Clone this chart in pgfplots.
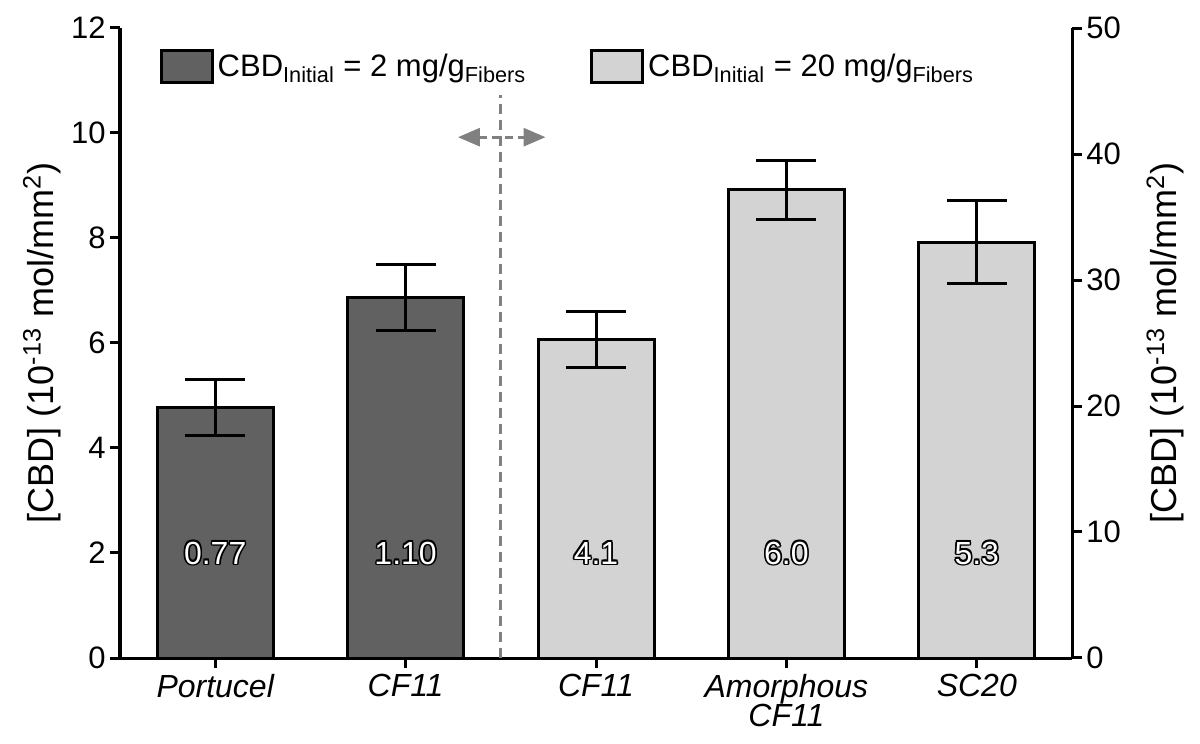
\documentclass[border=0pt]{standalone}
\usepackage{pgfplots}
\pgfplotsset{compat=1.18}
\usepackage{fontspec}
\setmainfont{Liberation Sans}
\usetikzlibrary{arrows.meta}
\definecolor{darkbar}{RGB}{97,97,97}
\definecolor{lightbar}{RGB}{211,211,211}
\definecolor{divider}{RGB}{128,128,128}

\newcommand{\olbox}[3]{\rlap{\kern#1\raisebox{#2}{\color{black}#3}}}
\newcommand{\outl}[1]{\leavevmode
 \olbox{0.8pt}{0pt}{#1}\olbox{-0.8pt}{0pt}{#1}\olbox{0pt}{0.8pt}{#1}\olbox{0pt}{-0.8pt}{#1}%
 \olbox{0.6pt}{0.6pt}{#1}\olbox{-0.6pt}{0.6pt}{#1}\olbox{0.6pt}{-0.6pt}{#1}\olbox{-0.6pt}{-0.6pt}{#1}%
 {\color{white}#1}}

\pgfplotstableread{
x y e
0 4.77 0.53
1 6.86 0.63
}\darkdata
\pgfplotstableread{
x y e
2 6.07 0.53
3 8.92 0.56
4 7.92 0.79
}\lightdata

\begin{document}
\begin{tikzpicture}
\begin{axis}[
  at={(0,0)}, anchor=south west,
  scale only axis, width=476pt, height=315pt,
  xmin=-0.5, xmax=4.5, ymin=0, ymax=12,
  axis x line*=bottom, axis y line*=left,
  axis line style={-, line width=1.5pt},
  ytick={0,2,...,12},
  xtick={0,1,2,3,4},
  xticklabels={Portucel, CF11, CF11, {Amorphous\\CF11}, SC20},
  tick style={line width=1.5pt, black},
  major tick length=5pt,
  tick align=outside,
  /pgf/number format/assume math mode=true,
  yticklabel style={font=\fontsize{15.5}{18}\selectfont, inner sep=2pt},
  xticklabel style={font=\itshape\fontsize{16}{14.5}\selectfont, align=center, inner sep=2pt, yshift=-1pt},
  every axis y label/.style={at={(axis description cs:-0.082,0.5)}, rotate=90, anchor=center, font=\fontsize{18}{20}\selectfont},
  ylabel={[CBD] (10\textsuperscript{-13} mol/mm\textsuperscript{2})},
  ybar, bar width=58pt,
  clip=false,
  legend columns=2,
  legend style={draw=none, fill=none, at={(axis description cs:0.035,0.973)}, anchor=north west,
    font=\fontsize{15.5}{18}\selectfont,
    /tikz/every even column/.append style={column sep=30pt}},
  legend image code/.code={\draw[#1] (0pt,-8pt) rectangle (25.5pt,8pt);},
]
\addplot[ybar, bar shift=0pt, fill=darkbar, draw=black, line width=1.5pt,
  error bars/.cd, y dir=both, y explicit,
  error bar style={line width=1.5pt, black},
  error mark options={rotate=90, mark size=15pt, line width=1.5pt, black}]
  table[x=x, y=y, y error=e] {\darkdata};
\addlegendentry{CBD\textsubscript{Initial} = 2 mg/g\textsubscript{Fibers}}
\addplot[ybar, bar shift=0pt, fill=lightbar, draw=black, line width=1.5pt,
  error bars/.cd, y dir=both, y explicit,
  error bar style={line width=1.5pt, black},
  error mark options={rotate=90, mark size=15pt, line width=1.5pt, black}]
  table[x=x, y=y, y error=e] {\lightdata};
\addlegendentry{CBD\textsubscript{Initial} = 20 mg/g\textsubscript{Fibers}}

\draw[divider, line width=1.5pt, dash pattern=on 5pt off 3pt] (axis cs:1.5,0) -- (axis cs:1.5,10.72);
\draw[divider, line width=1.5pt, dash pattern=on 4pt off 2.5pt,
  {Triangle[length=11pt,width=9pt]}-{Triangle[length=11pt,width=9pt]}]
  (axis cs:1.275,9.92) -- (axis cs:1.735,9.92);

\node[font=\fontsize{16}{18}\selectfont] at (axis cs:0,2) {\outl{0.77}};
\node[font=\fontsize{16}{18}\selectfont] at (axis cs:1,2) {\outl{1.10}};
\node[font=\fontsize{16}{18}\selectfont] at (axis cs:2,2) {\outl{4.1}};
\node[font=\fontsize{16}{18}\selectfont] at (axis cs:3,2) {\outl{6.0}};
\node[font=\fontsize{16}{18}\selectfont] at (axis cs:4,2) {\outl{5.3}};
\end{axis}

\begin{axis}[
  at={(0,0)}, anchor=south west,
  scale only axis, width=476pt, height=315pt,
  xmin=-0.5, xmax=4.5, ymin=0, ymax=50,
  hide x axis,
  axis y line*=right,
  axis line style={-, line width=1.5pt},
  ytick={0,10,...,50},
  tick style={line width=1.5pt, black},
  major tick length=5pt,
  tick align=outside,
  /pgf/number format/assume math mode=true,
  yticklabel style={font=\fontsize{15.5}{18}\selectfont, inner sep=2pt},
  every axis y label/.style={at={(axis description cs:1.098,0.5)}, rotate=90, anchor=center, font=\fontsize{18}{20}\selectfont},
  ylabel={[CBD] (10\textsuperscript{-13} mol/mm\textsuperscript{2})},
]
\addplot[draw=none, mark=none] coordinates {(0,0)};
\end{axis}

\pgfresetboundingbox
\path[use as bounding box] (-60pt,-43pt) rectangle (540pt,329pt);
\end{tikzpicture}
\end{document}
